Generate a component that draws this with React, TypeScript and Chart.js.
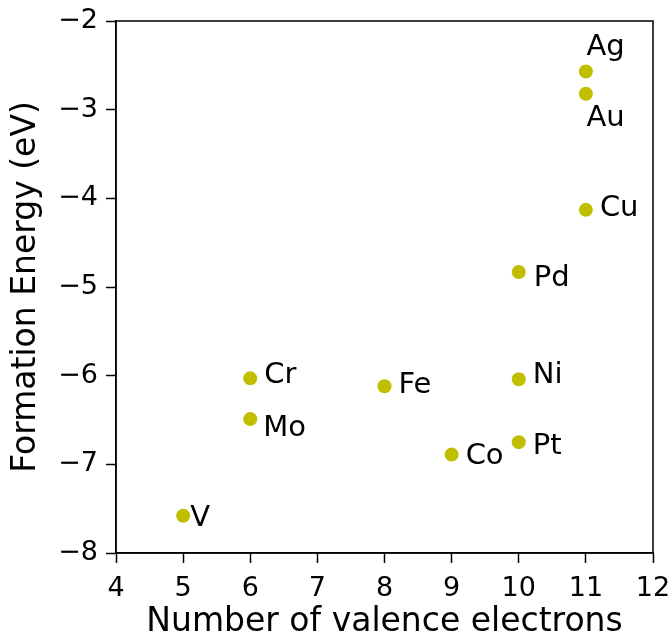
import React, { useEffect, useRef } from "react";
import { Chart, registerables } from "chart.js";

Chart.register(...registerables);

const elements = ["V", "Cr", "Mo", "Fe", "Co", "Ni", "Pt", "Pd", "Cu", "Ag", "Au"];
const valenceElectrons = [5, 6, 6, 8, 9, 10, 10, 10, 11, 11, 11];
const formationEnergy = [-7.58, -6.03, -6.49, -6.12, -6.89, -6.04, -6.75, -4.83, -4.13, -2.57, -2.82];
const xTicks = [4, 5, 6, 7, 8, 9, 10, 11, 12];
const yTicks = [-8, -7, -6, -5, -4, -3, -2];

// label placement offsets in pixels (dx to text origin, dy to baseline)
const labelOffsets: Record<string, [number, number]> = {
  V: [7, 10],
  Cr: [14, 5],
  Mo: [13, 17],
  Fe: [14, 6.5],
  Co: [14, 9],
  Ni: [14, 3.5],
  Pt: [14, 12],
  Pd: [15, 14],
  Cu: [14, 6],
  Ag: [0.5, -16.5],
  Au: [0.5, 32.5],
};

const FONT = "'DejaVu Sans', sans-serif";

function fmt(v: number): string {
  return v < 0 ? "\u2212" + Math.abs(v) : String(v);
}

export default function App() {
  const ref = useRef<HTMLCanvasElement | null>(null);

  useEffect(() => {
    document.body.style.margin = "0";
    const canvas = ref.current;
    if (!canvas) return;

    const framePlugin = {
      id: "frame",
      afterDraw(chart: any) {
        const { ctx, chartArea } = chart;
        ctx.save();
        ctx.strokeStyle = "#000";
        ctx.lineWidth = 1.5;
        ctx.strokeRect(chartArea.left, chartArea.top, chartArea.right - chartArea.left, chartArea.bottom - chartArea.top);
        ctx.restore();
      },
    };

    const labelPlugin = {
      id: "pointLabels",
      afterDatasetsDraw(chart: any) {
        const { ctx } = chart;
        const xs = chart.scales.x;
        const ys = chart.scales.y;
        ctx.save();
        ctx.font = `29px ${FONT}`;
        ctx.fillStyle = "#000";
        ctx.textAlign = "left";
        ctx.textBaseline = "alphabetic";
        elements.forEach((name, i) => {
          const px = xs.getPixelForValue(valenceElectrons[i]);
          const py = ys.getPixelForValue(formationEnergy[i]);
          const [dx, dy] = labelOffsets[name] || [12, 8];
          ctx.fillText(name, px + dx, py + dy);
        });
        ctx.restore();
      },
    };

    const chart = new Chart(canvas, {
      type: "scatter",
      data: {
        datasets: [
          {
            data: valenceElectrons.map((x, i) => ({ x, y: formationEnergy[i] })),
            backgroundColor: "#bfbf00",
            borderWidth: 0,
            pointRadius: 7,
            pointHoverRadius: 7,
          },
        ],
      },
      options: {
        responsive: false,
        animation: false,
        events: [],
        layout: { padding: { top: 21, right: 17, left: 0, bottom: 0 } },
        plugins: {
          legend: { display: false },
          tooltip: { enabled: false },
        },
        scales: {
          x: {
            type: "linear",
            min: 4,
            max: 12,
            afterFit(scale: any) {
              scale.height = 86;
              scale.paddingLeft = 0;
              scale.paddingRight = 0;
            },
            afterBuildTicks(scale: any) {
              scale.ticks = xTicks.map((v) => ({ value: v }));
            },
            ticks: {
              color: "#000",
              font: { family: FONT, size: 27 },
              padding: 10,
              callback: (v: any) => fmt(Number(v)),
            },
            grid: {
              drawOnChartArea: false,
              drawTicks: true,
              tickLength: 10,
              tickColor: "#000",
              tickWidth: 1.5,
            },
            border: { display: true, color: "#000", width: 1.5 },
            title: {
              display: true,
              text: "Number of valence electrons",
              color: "#000",
              font: { family: FONT, size: 33, lineHeight: 1 },
              padding: { top: 0, bottom: 0 },
            },
          },
          y: {
            type: "linear",
            min: -8,
            max: -2,
            afterFit(scale: any) {
              scale.width = 116;
              scale.paddingTop = 0;
              scale.paddingBottom = 0;
            },
            afterBuildTicks(scale: any) {
              scale.ticks = yTicks.map((v) => ({ value: v }));
            },
            ticks: {
              color: "#000",
              font: { family: FONT, size: 27 },
              padding: 8,
              callback: (v: any) => fmt(Number(v)),
            },
            grid: {
              drawOnChartArea: false,
              drawTicks: true,
              tickLength: 10,
              tickColor: "#000",
              tickWidth: 1.5,
            },
            border: { display: true, color: "#000", width: 1.5 },
            title: {
              display: true,
              text: "Formation Energy (eV)",
              color: "#000",
              font: { family: FONT, size: 33, lineHeight: 1 },
              padding: { top: 10, bottom: 0 },
            },
          },
        },
      },
      plugins: [framePlugin, labelPlugin],
    });

    return () => chart.destroy();
  }, []);

  return <canvas ref={ref} width={670} height={639} style={{ display: "block" }} />;
}
